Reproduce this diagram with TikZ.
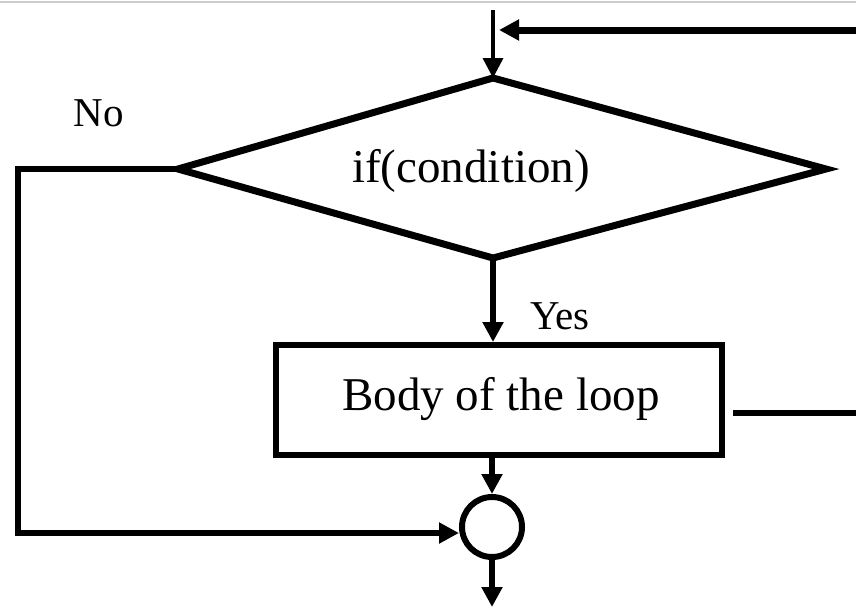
\documentclass[tikz,border=0pt]{standalone}
\usepackage{fontspec}
\setmainfont{Liberation Serif}
\usetikzlibrary{arrows.meta,shapes.geometric}
\begin{document}
\begin{tikzpicture}[x=1pt,y=-1pt,
  line/.style={line width=6.5pt},
  tip/.style={-{Triangle[length=20pt,width=20pt]}},
  lbl/.style={font=\fontsize{47}{50}\selectfont, inner sep=0pt, anchor=base},
  small/.style={font=\fontsize{41}{44}\selectfont, inner sep=0pt, anchor=base}]
\useasboundingbox (0,0) rectangle (856,611);
\draw[gray!40, line width=2pt] (0,2) -- (856,2);
% diamond
\coordinate (dT) at (493,78);
\coordinate (dL) at (178,169);
\coordinate (dR) at (826,169);
\coordinate (dB) at (493,258);
\draw[line width=7pt, line join=miter] (dT) -- (dR) -- (dB) -- (dL) -- cycle;
\node[lbl] (cond) at (471,182) {if(condition)};
% box
\node[draw, line width=6pt, minimum width=446pt, minimum height=110pt, inner sep=0pt] (body) at (499,400) {};
\node[lbl] (bodytext) at (501,410) {Body of the loop};
% circle
\node[draw, circle, line width=6pt, minimum size=60pt, inner sep=0pt] (join) at (492,527) {};
% labels
\node[small] (no) at (99,126) {No};
\node[small] (yes) at (560,329) {Yes};
% connectors
\coordinate (top) at (493,10);
\draw[line width=3.5pt, tip] (top) -- (dT);
\coordinate (fbR) at (856,30);
\coordinate (fbL) at (499,30);
\draw[line width=7pt, tip] (fbR) -- (fbL);
\coordinate (nl) at (18,169);
\coordinate (nb) at (18,533);
\draw[line, tip, line join=miter] (dL) -- (nl) -- (nb) -- (join.west |- nb);
\draw[line, tip] (dB) -- (body.north -| dB);
\draw[line, tip] (body.south -| join) -- (join.north);
\coordinate (out) at (492,607);
\draw[line, tip] (join.south) -- (out);
\coordinate (bR) at (856,413);
\coordinate (bL) at (733,413);
\draw[line] (bL) -- (bR);
\end{tikzpicture}
\end{document}
